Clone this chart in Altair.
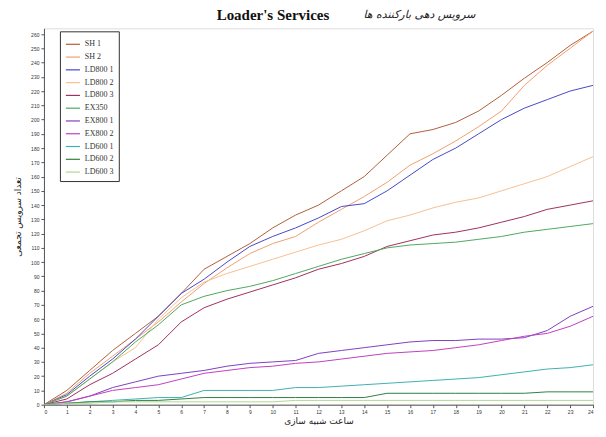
import altair as alt
import pandas as pd

hours = list(range(25))

series_names = ["SH 1", "SH 2", "LD800 1", "LD800 2", "LD800 3", "EX350",
                "EX800 1", "EX800 2", "LD600 1", "LD600 2", "LD600 3"]
series_colors = ["#b0603a", "#f0a070", "#4848c8", "#f8c090", "#a03060", "#50a860",
                 "#8040c0", "#c040c0", "#40b0b0", "#308040", "#b0d890"]

sh1 = [0, 10, 24, 38, 50, 62, 78, 95, 104, 113, 124, 133, 140, 150, 160, 175, 190, 193, 198, 206, 217, 229, 240, 252, 262]
sh2 = [0, 8, 22, 34, 46, 58, 72, 85, 96, 106, 113, 118, 128, 137, 146, 156, 168, 176, 185, 195, 206, 224, 238, 250, 262]
ld800_1 = [0, 7, 20, 32, 46, 62, 78, 88, 100, 111, 118, 124, 131, 139, 141, 150, 161, 172, 180, 190, 200, 208, 214, 220, 224]
ld800_2 = [0, 6, 18, 30, 40, 60, 75, 86, 92, 97, 102, 107, 112, 116, 122, 129, 133, 138, 142, 145, 150, 155, 160, 167, 174]
ld800_3 = [0, 4, 14, 22, 32, 42, 58, 68, 74, 79, 84, 89, 95, 99, 104, 111, 115, 119, 121, 124, 128, 132, 137, 140, 143]
ex350 = [0, 6, 18, 30, 44, 56, 70, 76, 80, 83, 87, 92, 97, 102, 106, 110, 112, 113, 114, 116, 118, 121, 123, 125, 127]
ex800_1 = [0, 2, 6, 12, 16, 20, 22, 24, 27, 29, 30, 31, 36, 38, 40, 42, 44, 45, 45, 46, 46, 47, 52, 62, 69]
ex800_2 = [0, 2, 6, 10, 12, 14, 18, 22, 24, 26, 27, 29, 30, 32, 34, 36, 37, 38, 40, 42, 45, 48, 50, 55, 62]
ld600_1 = [0, 1, 2, 3, 4, 5, 5, 10, 10, 10, 10, 12, 12, 13, 14, 15, 16, 17, 18, 19, 21, 23, 25, 26, 28]
ld600_2 = [0, 1, 2, 2, 3, 3, 4, 5, 5, 5, 5, 5, 5, 5, 5, 8, 8, 8, 8, 8, 8, 8, 9, 9, 9]
ld600_3 = [0, 1, 1, 2, 2, 2, 2, 2, 2, 2, 2, 3, 3, 3, 3, 3, 3, 3, 3, 3, 3, 3, 3, 3, 3]

all_series = [sh1, sh2, ld800_1, ld800_2, ld800_3, ex350, ex800_1, ex800_2, ld600_1, ld600_2, ld600_3]

title_en = "Loader's Services"
title_fa = "سرویس دهی بارکننده ها"

rows = []
for name, vals in zip(series_names, all_series):
    for h, v in zip(hours, vals):
        rows.append({"hour": h, "count": v, "series": name})
df = pd.DataFrame(rows)

y_ticks = list(range(0, 261, 10))
x_ticks = list(range(0, 25))

lines = alt.Chart(df).mark_line(strokeWidth=1, clip=True).encode(
    x=alt.X("hour:Q", scale=alt.Scale(domain=[0, 24], nice=False),
            axis=alt.Axis(title="ساعت شبیه سازی", values=x_ticks, grid=False,
                          labelFontSize=5, tickSize=3, labelPadding=2,
                          titleFontSize=9, titlePadding=2, titleFont="DejaVu Sans",
                          titleFontWeight="normal", domainColor="#555", tickColor="#555",
                          labelColor="#333", titleColor="#222")),
    y=alt.Y("count:Q", scale=alt.Scale(domain=[0, 264], nice=False),
            axis=alt.Axis(title="تعداد سرویس تجمعی", values=y_ticks, grid=False,
                          labelFontSize=5, tickSize=3, labelPadding=2,
                          titleFontSize=9, titlePadding=8, titleFont="DejaVu Sans",
                          titleFontWeight="normal", domainColor="#555", tickColor="#555",
                          labelColor="#333", titleColor="#222")),
    color=alt.Color("series:N", scale=alt.Scale(domain=series_names, range=series_colors),
                    sort=series_names,
                    legend=alt.Legend(title=None, orient="none", legendX=16, legendY=3,
                                      symbolType="stroke", symbolSize=200, symbolStrokeWidth=1.2,
                                      labelFontSize=8, labelFont="Liberation Serif",
                                      rowPadding=0.8, padding=5, strokeColor="#333",
                                      fillColor="white", labelColor="#333",
                                      labelOffset=4)),
)

en_title = alt.Chart(pd.DataFrame({"t": [title_en]})).mark_text(
    align="left", baseline="middle", fontSize=15, fontWeight="bold",
    font="Liberation Serif", color="#111"
).encode(text="t:N", x=alt.value(173), y=alt.value(-13))

fa_title = alt.Chart(pd.DataFrame({"t": [title_fa]})).mark_text(
    align="left", baseline="middle", fontSize=11, fontStyle="italic",
    font="DejaVu Sans", color="#222"
).encode(text="t:N", x=alt.value(320), y=alt.value(-13))

chart = alt.layer(lines, en_title, fa_title).properties(
    width=550, height=377,
    padding={"left": 5, "top": 0, "right": 4, "bottom": 0},
).configure_view(stroke=None).configure(background="white")

chart.save("out.html", embed_options={"renderer": "svg", "actions": False})
